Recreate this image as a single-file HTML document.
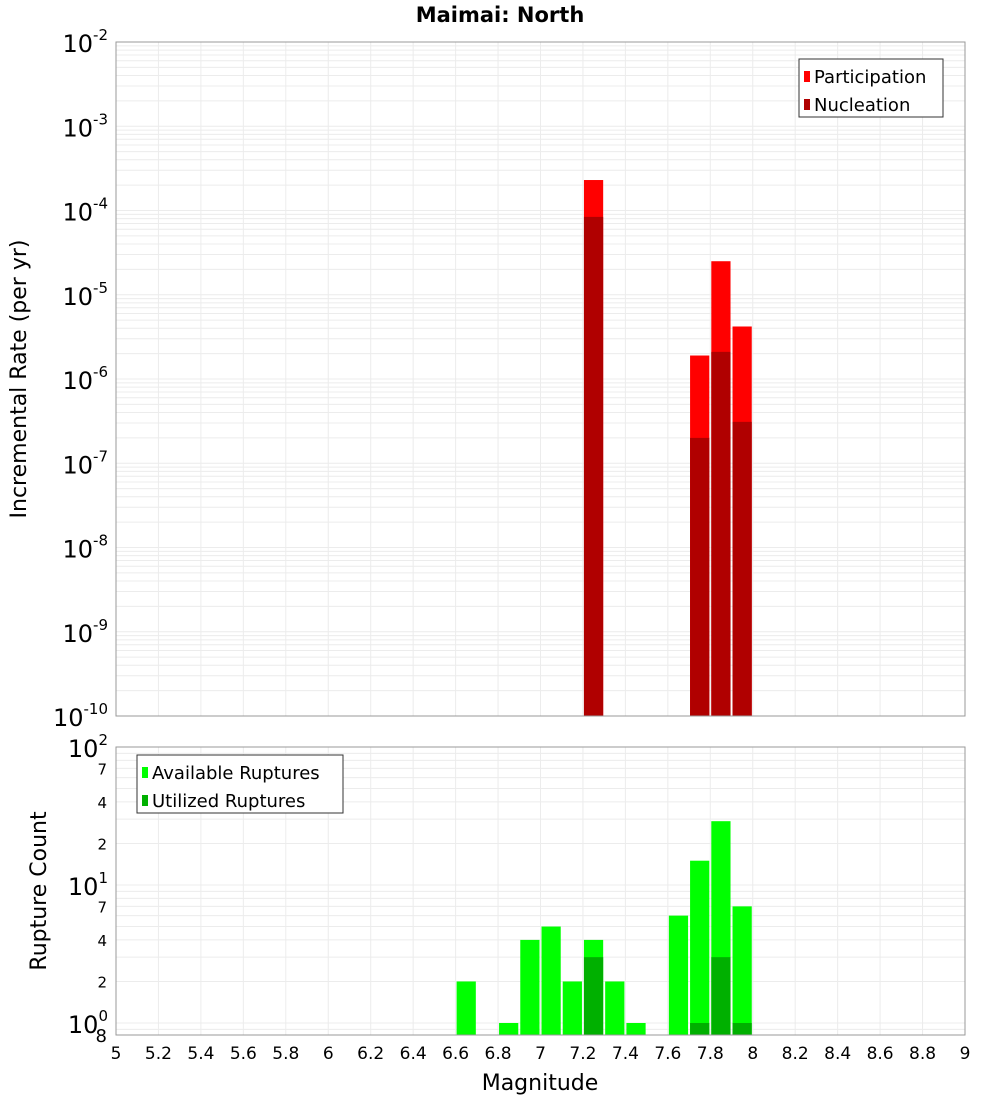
<!DOCTYPE html>
<html><head><meta charset="utf-8"><style>
body{margin:0;background:#fff;font-family:"Liberation Sans","DejaVu Sans",sans-serif}
</style></head><body>
<svg id="c" width="1000" height="1100" xmlns="http://www.w3.org/2000/svg" font-family="DejaVu Sans, Liberation Sans, sans-serif">
<text x="500" y="22" text-anchor="middle" font-size="21" font-weight="bold">Maimai: North</text>
<g id="topg"></g><g id="botg"></g>
<text transform="translate(26,379) rotate(-90)" text-anchor="middle" font-size="22">Incremental Rate (per yr)</text>
<text transform="translate(46,891) rotate(-90)" text-anchor="middle" font-size="22">Rupture Count</text>
<text x="540" y="1090" text-anchor="middle" font-size="22">Magnitude</text>
</svg>
<script>
const mags=[7.25,7.75,7.85,7.95];
const participation=[2.3e-4,1.9e-6,2.5e-5,4.2e-6];
const nucleation=[8.4e-5,2.0e-7,2.1e-6,3.1e-7];
const cmags=[6.65,6.85,6.95,7.05,7.15,7.25,7.35,7.45,7.65,7.75,7.85,7.95];
const available=[2,1,4,5,2,4,2,1,6,15,29,7];
const utilized=[0,0,0,0,0,3,0,0,0,1,3,1];
const xticks=[5,5.2,5.4,5.6,5.8,6,6.2,6.4,6.6,6.8,7,7.2,7.4,7.6,7.8,8,8.2,8.4,8.6,8.8,9];
const NS="http://www.w3.org/2000/svg";
const X0=116,X1=965;
const xs=m=>X0+(m-5)/4*(X1-X0);
const T0=42,T1=716,yt=v=>T0+(-2-Math.log10(v))*(T1-T0)/8;
const B0=747,B1=1035,yb=v=>1023-Math.log10(v)*138;
function el(p,t,a){const e=document.createElementNS(NS,t);for(const k in a)e.setAttribute(k,a[k]);p.appendChild(e);return e;}
function pow10(p,xx,yy,base,exp,name){const t=el(p,'text',{x:xx,y:yy,'text-anchor':'end','font-size':24});


const a=el(t,'tspan',{});a.textContent=base;const b=el(t,'tspan',{dy:-12,'font-size':15});b.textContent=exp;}
const topG=document.getElementById('topg'),botG=document.getElementById('botg');
for(let d=-10;d<-2;d++)for(let k=1;k<10;k++){const yy=yt(k*Math.pow(10,d));const g=el(topG,'line',{x1:X0,x2:X1,y1:yy,y2:yy,stroke:'#ececec','stroke-width':1});

}
for(let d=-1;d<2;d++)for(let k=1;k<10;k++){const v=k*Math.pow(10,d);const yy=yb(v);if(yy<B0||yy>B1)continue;const g=el(botG,'line',{x1:X0,x2:X1,y1:yy,y2:yy,stroke:'#ececec','stroke-width':1});

}
xticks.forEach(t=>{[[topG,T0,T1],[botG,B0,B1]].forEach(([p,a,b])=>{const g=el(p,'line',{x1:xs(t),x2:xs(t),y1:a,y2:b,stroke:'#ececec'});

});
const tx=el(botG,'text',{x:xs(t),y:1059,'text-anchor':'middle','font-size':17});tx.textContent=t;

});
const bw=(xs(5.1)-xs(5))-2;
mags.forEach((m,i)=>{const r=el(topG,'rect',{x:xs(m)-bw/2,y:yt(participation[i]),width:bw,height:T1-yt(participation[i]),fill:'#ff0000'});


const n=el(topG,'rect',{x:xs(m)-bw/2,y:yt(nucleation[i]),width:bw,height:T1-yt(nucleation[i]),fill:'#b00000'});

});
cmags.forEach((m,i)=>{const r=el(botG,'rect',{x:xs(m)-bw/2,y:yb(available[i]),width:bw,height:B1-yb(available[i]),fill:'#00ff00'});


if(utilized[i]>0){const u=el(botG,'rect',{x:xs(m)-bw/2,y:yb(utilized[i]),width:bw,height:B1-yb(utilized[i]),fill:'#00b000'});

}});
[[topG,T0,T1],[botG,B0,B1]].forEach(([p,a,b])=>{const f=el(p,'rect',{x:X0,y:a,width:X1-X0,height:b-a,fill:'none',stroke:'#999'});

});
for(let d=-10;d<=-2;d++){pow10(topG,108,yt(Math.pow(10,d))+10,'10',String(d),'top-y-tick-label');}
[[100,'2'],[10,'1'],[1,'0']].forEach(([v,e])=>pow10(botG,108,yb(v)+10,'10',e,'bottom-y-tick-label'));
[[70,'7'],[40,'4'],[20,'2'],[7,'7'],[4,'4'],[2,'2']].forEach(([v,s])=>{const t=el(botG,'text',{x:107,y:yb(v)+6,'text-anchor':'end','font-size':15});t.textContent=s;

});
{const t=el(botG,'text',{x:107,y:1042,'text-anchor':'end','font-size':18});t.textContent='8';

}
function legend(p,x0,y0,w,items,name){const g=el(p,'g',{});


el(g,'rect',{x:x0,y:y0,width:w,height:58,fill:'#fff',stroke:'#333'});
items.forEach(([c,s],i)=>{el(g,'rect',{x:x0+5,y:y0+12+i*28,width:6,height:11,fill:c});const t=el(g,'text',{x:x0+15,y:y0+24+i*28,'font-size':18});t.textContent=s;});}
legend(topG,799,59,144,[['#ff0000','Participation'],['#b00000','Nucleation']],'top-legend');
legend(botG,137,755,206,[['#00ff00','Available Ruptures'],['#00b000','Utilized Ruptures']],'bottom-legend');
</script>
</body></html>
